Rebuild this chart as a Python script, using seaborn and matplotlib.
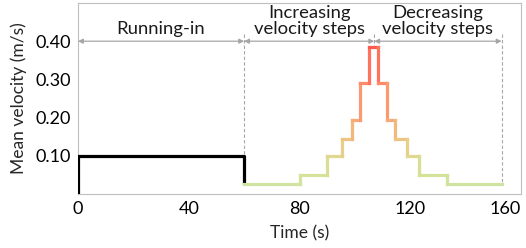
import numpy as np
import pandas as pd
import matplotlib
matplotlib.use("Agg")
import matplotlib.pyplot as plt
from matplotlib.colors import LinearSegmentedColormap, to_hex
import seaborn as sns

# Running-in phase (black line)
RUNIN_T = [0, 0, 60, 60]
RUNIN_V = [0.0, 0.10, 0.10, 0.025]

# velocity steps: edges (s) and level of each step (m/s)
STEP_EDGES = [60, 80, 90, 95.3, 99, 102, 105.2, 108.3, 111.6, 114.5, 118.8, 123.1, 133.2, 153]
STEP_VEL = [0.025, 0.05, 0.10, 0.145, 0.195, 0.29, 0.385, 0.29, 0.195, 0.145, 0.10, 0.05, 0.025]

PHASE_BOUNDS = [0, 60, 107, 153]
PHASE_LABELS = ["Running-in", "Increasing\nvelocity steps", "Decreasing\nvelocity steps"]

X_TICKS = [0, 40, 80, 120, 160]
Y_TICKS = [0.10, 0.20, 0.30, 0.40]

sns.set_style("white")
plt.rcParams["font.family"] = ["Lato", "DejaVu Sans"]

# colour by velocity (stops in m/s)
stops = [(0.025, "#cfe4a0"), (0.05, "#d4e29a"), (0.10, "#e0d890"), (0.145, "#eec483"),
         (0.195, "#f8aa78"), (0.29, "#ff8a68"), (0.385, "#ff5a50")]
vmin, vmax = stops[0][0], stops[-1][0]
cmap = LinearSegmentedColormap.from_list(
    "vel", [((v - vmin) / (vmax - vmin), c) for v, c in stops])
def vel_color(v):
    return to_hex(cmap((v - vmin) / (vmax - vmin)))

# build step segments (horizontal + risers)
rows = []
palette = {}
seg = 0
for i, v in enumerate(STEP_VEL):
    t0, t1 = STEP_EDGES[i], STEP_EDGES[i + 1]
    rows += [(seg, t0, v), (seg, t1, v)]
    palette[seg] = vel_color(v)
    seg += 1
    if i + 1 < len(STEP_VEL):
        v2 = STEP_VEL[i + 1]
        rows += [(seg, t1, v), (seg, t1, v2)]
        palette[seg] = vel_color((v + v2) / 2)
        seg += 1
df = pd.DataFrame(rows, columns=["seg", "t", "v"])

fig = plt.figure(figsize=(5.26, 2.48), dpi=100)
ax = fig.add_axes([78 / 526, 54 / 248, 443 / 526, 191 / 248])

# dashed phase boundaries
end_vals = {60: 0.10, 107: max(STEP_VEL), 153: STEP_VEL[-1]}
for xb, yb in end_vals.items():
    ax.plot([xb, xb], [0.418, yb], ls=(0, (3, 2)), color="#a6a6a6", lw=0.8, zorder=1)

sns.lineplot(x=RUNIN_T, y=RUNIN_V, sort=False, estimator=None, color="black",
             lw=2.3, ax=ax, zorder=3)
sns.lineplot(data=df, x="t", y="v", hue="seg", palette=palette, sort=False,
             estimator=None, legend=False, lw=2.3, ax=ax, zorder=3,
             solid_capstyle="projecting")

# phase arrows and labels
for i, label in enumerate(PHASE_LABELS):
    a, b = PHASE_BOUNDS[i], PHASE_BOUNDS[i + 1]
    ax.annotate("", xy=(b, 0.40), xytext=(a, 0.40),
                arrowprops=dict(arrowstyle="<|-|>", color="#a6a6a6", lw=0.9,
                                mutation_scale=7, shrinkA=0, shrinkB=0))
    ax.text((a + b) / 2, 0.412, label, ha="center", va="bottom", fontsize=13.3,
            linespacing=0.95, color="#1a1a1a")

ax.set_xlim(0, 160)
ax.set_ylim(0, 0.5)
ax.set_xticks(X_TICKS)
ax.set_xticks([20, 60, 100, 140], minor=True)
ax.set_yticks(Y_TICKS)
ax.set_yticklabels([f"{y:.2f}" for y in Y_TICKS])
ax.tick_params(axis="both", which="both", direction="in", length=3, color="#bfbfbf",
               labelsize=13, labelcolor="black", pad=5)
ax.get_xticklabels()[-1].set_horizontalalignment("right")
for s in ax.spines.values():
    s.set_color("#bfbfbf")
    s.set_linewidth(0.8)
ax.set_xlabel("Time (s)", fontsize=12.5, labelpad=6)
ax.set_ylabel("Mean velocity (m/s)", fontsize=12.5, labelpad=6)

fig.savefig("out.png", dpi=100)
